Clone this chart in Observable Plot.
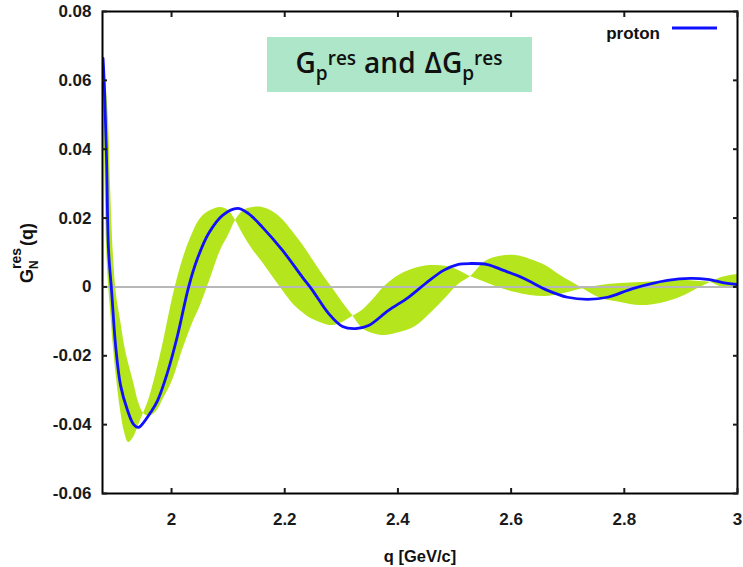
<!DOCTYPE html>
<html>
<head>
<meta charset="utf-8">
<script src="https://cdn.jsdelivr.net/npm/d3@7"></script>
<script src="https://cdn.jsdelivr.net/npm/@observablehq/plot@0.6"></script>
<style>
  body { margin: 0; background: #fff; }
  #wrap { position: relative; width: 743px; height: 567px; }
  #wrap svg { position: absolute; left: 0; top: 0; }
</style>
</head>
<body>
<div id="wrap"></div>
<script>
// Band (G_p^res +/- ΔG_p^res): two bounding curves on a common q grid
const bandQ = [1.879, 1.8816, 1.8852, 1.8887, 1.8922, 1.8975, 1.9028, 1.9099, 1.917, 1.924, 1.9329, 1.9417, 1.9505, 1.9594, 1.9717, 1.9859, 2.0018, 2.0194, 2.0371, 2.0512, 2.0689, 2.0866, 2.1007, 2.1131, 2.1272, 2.1431, 2.1608, 2.1784, 2.1961, 2.2138, 2.2314, 2.2491, 2.2668, 2.2845, 2.3021, 2.3198, 2.3375, 2.3551, 2.3781, 2.4046, 2.4311, 2.4576, 2.4841, 2.5071, 2.5283, 2.5548, 2.5813, 2.6078, 2.6343, 2.6608, 2.6873, 2.7226, 2.758, 2.7933, 2.8286, 2.864, 2.8993, 2.9346, 2.9523, 2.9735, 3.0];
const bandA = [0.0667, 0.0396, 0.0121, 0.0004, -0.0068, -0.0179, -0.0266, -0.0359, -0.0423, -0.0452, -0.0437, -0.0402, -0.0367, -0.033, -0.0257, -0.0158, -0.0033, 0.0077, 0.0155, 0.0199, 0.0222, 0.0231, 0.0222, 0.0193, 0.015, 0.0109, 0.0071, 0.003, -0.001, -0.0048, -0.0074, -0.0094, -0.0106, -0.0112, -0.0103, -0.0086, -0.0068, -0.0039, 0.0004, 0.0036, 0.0054, 0.0062, 0.006, 0.0048, 0.003, 0.0013, -0.0004, -0.0016, -0.0025, -0.0028, -0.0022, -0.0007, 0.0004, 0.001, 0.0013, 0.0016, 0.0019, 0.0016, 0.0013, -0.0001, -0.0004];
const bandB = [0.0672, 0.0629, 0.0571, 0.0484, 0.0295, 0.0086, -0.0025, -0.0097, -0.017, -0.0222, -0.0277, -0.0335, -0.0367, -0.0376, -0.0365, -0.0324, -0.0272, -0.0184, -0.0106, -0.0054, 0.0025, 0.0106, 0.015, 0.0193, 0.0222, 0.0231, 0.0231, 0.0219, 0.0196, 0.0161, 0.0123, 0.008, 0.0036, -0.0004, -0.0045, -0.0083, -0.0121, -0.0135, -0.0141, -0.0132, -0.0115, -0.0077, -0.0033, 0.0007, 0.003, 0.0074, 0.0089, 0.0091, 0.008, 0.0062, 0.0033, -0.0001, -0.0033, -0.0045, -0.0054, -0.0048, -0.003, -0.0001, 0.0013, 0.0028, 0.0036];

// Proton curve (blue)
const protonQ = [1.879, 1.8816, 1.8852, 1.8887, 1.894, 1.9011, 1.9099, 1.9223, 1.9329, 1.9417, 1.9505, 1.9629, 1.9753, 1.9929, 2.0106, 2.03, 2.0459, 2.0654, 2.0901, 2.1166, 2.136, 2.1608, 2.1961, 2.2314, 2.2491, 2.2774, 2.3021, 2.3251, 2.3481, 2.3834, 2.4187, 2.4488, 2.4806, 2.5053, 2.5283, 2.5583, 2.5866, 2.6219, 2.6643, 2.6996, 2.735, 2.7703, 2.8163, 2.8763, 2.917, 2.947, 2.9823, 3.0];
const protonG = [0.0664, 0.0571, 0.0367, 0.0106, -0.001, -0.017, -0.0286, -0.0359, -0.0399, -0.0408, -0.0394, -0.0365, -0.033, -0.0248, -0.0141, -0.0001, 0.0083, 0.0155, 0.0208, 0.0228, 0.0213, 0.0173, 0.0106, 0.0028, -0.001, -0.0077, -0.0115, -0.0121, -0.0112, -0.0068, -0.003, 0.001, 0.0048, 0.0065, 0.0068, 0.0065, 0.0048, 0.0025, -0.001, -0.003, -0.0036, -0.003, -0.0004, 0.0019, 0.0025, 0.0022, 0.001, 0.0007];

const xTicks = [2, 2.2, 2.4, 2.6, 2.8, 3];
const yTicks = [-0.06, -0.04, -0.02, 0, 0.02, 0.04, 0.06, 0.08];
const seriesName = "proton";

const band = bandQ.map((q, i) => ({q, a: bandA[i], b: bandB[i]}));
const proton = protonQ.map((q, i) => ({q, g: protonG[i]}));

const fmtX = d => String(+d.toFixed(1));
const fmtY = d => Math.abs(d) < 1e-9 ? "0" : d.toFixed(2);

const plot = Plot.plot({
  width: 743,
  height: 567,
  marginLeft: 102,
  marginRight: 6,
  marginTop: 11,
  marginBottom: 74,
  style: {fontFamily: "Liberation Sans, Arial, sans-serif", fontSize: "17px", fontWeight: "bold", color: "#1a1a1a", background: "white"},
  x: {domain: [1.878, 3]},
  y: {domain: [-0.06, 0.08]},
  marks: [
    Plot.areaY(band, {x: "q", y1: "a", y2: "b", fill: "#b5e61d", curve: "catmull-rom", clip: true}),
    Plot.ruleY([0], {stroke: "#b8b8b8", strokeWidth: 2}),
    Plot.line(proton, {x: "q", y: "g", stroke: "#1010ff", strokeWidth: 2.8, curve: "catmull-rom", clip: true}),
    Plot.frame({stroke: "#000", strokeWidth: 2}),
    Plot.axisX({ticks: xTicks, tickSize: -5, tickPadding: 24, tickFormat: fmtX, label: null, strokeWidth: 2}),
    Plot.axisX({anchor: "top", ticks: xTicks, tickSize: -5, tickFormat: () => "", label: null, strokeWidth: 2}),
    Plot.axisY({ticks: yTicks, tickSize: -5, tickPadding: 16, tickFormat: fmtY, label: null, strokeWidth: 2}),
    Plot.axisY({anchor: "right", ticks: yTicks, tickSize: -5, tickFormat: () => "", label: null, strokeWidth: 2})
  ]
});

const wrap = document.getElementById("wrap");
wrap.appendChild(plot);

// Overlay for rich text (sub/superscripts), the title box and the legend
const ov = d3.select(wrap).append("svg")
  .attr("width", 743).attr("height", 567)
  .style("pointer-events", "none");

// Title box
ov.append("rect").attr("x", 267).attr("y", 37).attr("width", 265).attr("height", 55).attr("fill", "#ade6c8");

const t = ov.append("text")
  .attr("x", 399).attr("y", 73)
  .attr("text-anchor", "middle")
  .attr("font-family", "Open Sans, sans-serif")
  .attr("font-weight", 600)
  .attr("fill", "#111");
t.append("tspan").text("G").attr("font-size", 28);
t.append("tspan").text("p").attr("font-size", 19).attr("dy", 7);
t.append("tspan").text("res").attr("font-size", 19).attr("dy", -15);
t.append("tspan").text("and").attr("font-size", 28).attr("dx", 8).attr("dy", 8);
t.append("tspan").text("\u0394G").attr("font-size", 28).attr("dx", 9);
t.append("tspan").text("p").attr("font-size", 19).attr("dy", 7);
t.append("tspan").text("res").attr("font-size", 19).attr("dy", -15);

// Legend
ov.append("text").attr("x", 660).attr("y", 39).attr("text-anchor", "end")
  .attr("font-family", "Liberation Sans, Arial, sans-serif").attr("font-weight", "bold")
  .attr("font-size", 17).attr("fill", "#111").text(seriesName);
ov.append("line").attr("x1", 672).attr("x2", 717).attr("y1", 28).attr("y2", 28)
  .attr("stroke", "#1010ff").attr("stroke-width", 3);

// Y-axis title
const yt = ov.append("text")
  .attr("transform", "translate(33,253) rotate(-90)")
  .attr("text-anchor", "middle")
  .attr("font-family", "Liberation Sans, Arial, sans-serif")
  .attr("font-weight", "bold")
  .attr("fill", "#111");
yt.append("tspan").text("G").attr("font-size", 18);
{
  const s = yt.append("tspan").text("N").attr("font-size", 12).attr("dy", 5);
  const w = s.node().getComputedTextLength();
  yt.append("tspan").text("res").attr("font-size", 14).attr("dx", -w).attr("dy", -17);
}
yt.append("tspan").text("(q)").attr("font-size", 18).attr("dx", 2).attr("dy", 12);

// X-axis title
ov.append("text").attr("x", 420).attr("y", 562).attr("text-anchor", "middle")
  .attr("font-family", "Liberation Sans, Arial, sans-serif").attr("font-weight", "bold")
  .attr("font-size", 16.5).attr("fill", "#111").text("q [GeV/c]");
</script>
</body>
</html>
